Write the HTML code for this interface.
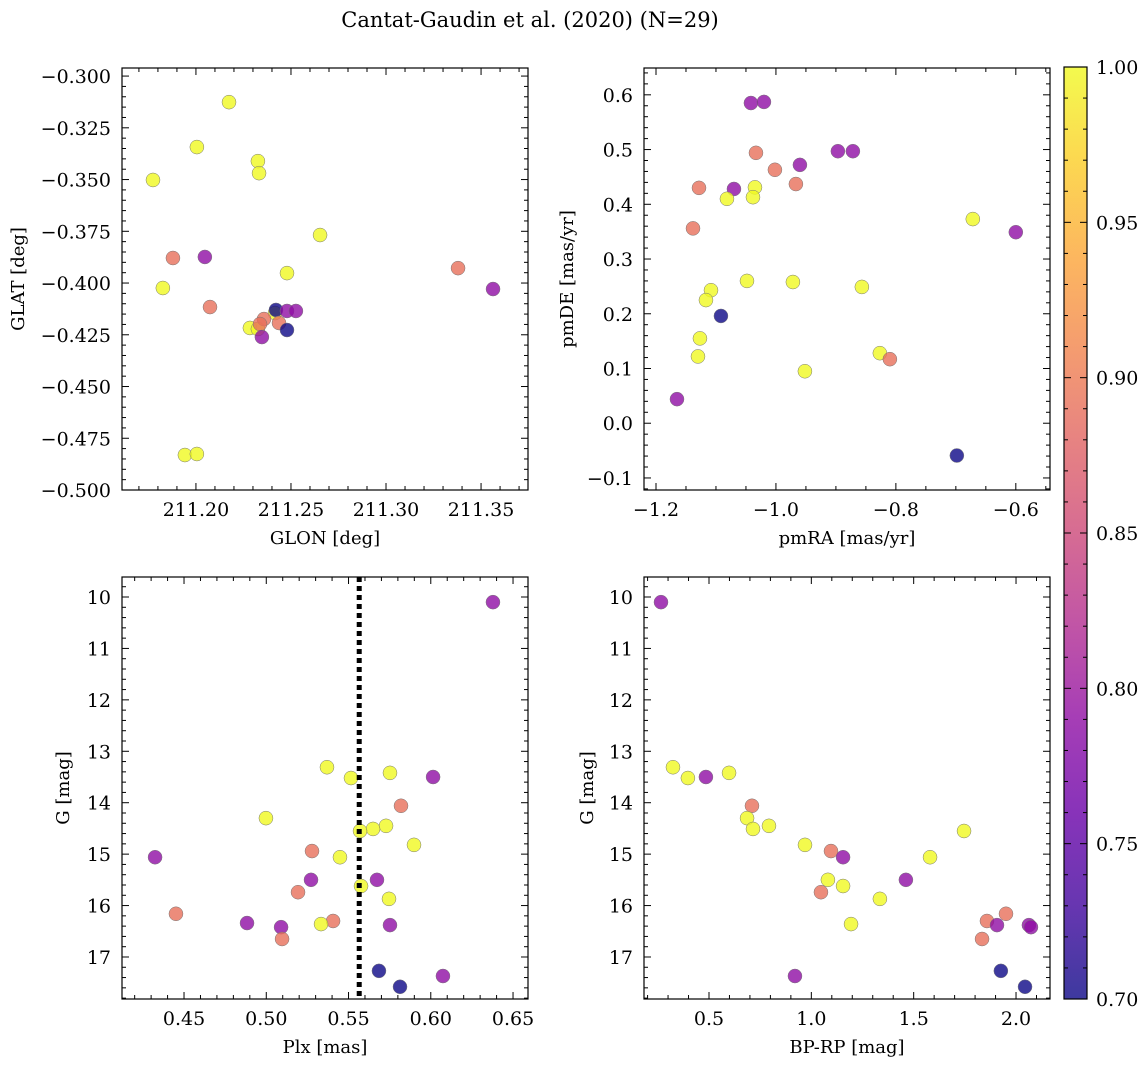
<!DOCTYPE html>
<html><head><meta charset="utf-8">
<style>
html,body{margin:0;padding:0;background:#fff;}
svg{display:block;font-family:"DejaVu Serif","Liberation Serif",serif;}
</style></head>
<body>
<svg id="fig" width="1148" height="1067" viewBox="0 0 1148 1067">
<defs>
<linearGradient id="plasma" x1="0" y1="1" x2="0" y2="0">
<stop offset="0" stop-color="#0d0887"/><stop offset="0.1" stop-color="#41049d"/><stop offset="0.2" stop-color="#6a00a8"/><stop offset="0.3" stop-color="#8f0da4"/><stop offset="0.4" stop-color="#b12a90"/><stop offset="0.5" stop-color="#cc4778"/><stop offset="0.6" stop-color="#e16462"/><stop offset="0.7" stop-color="#f2844b"/><stop offset="0.8" stop-color="#fca636"/><stop offset="0.9" stop-color="#fcce25"/><stop offset="1" stop-color="#f0f921"/>
</linearGradient>
</defs>
<text x="530" y="27" font-size="21" text-anchor="middle">Cantat-Gaudin et al. (2020) (N=29)</text>
</svg>
<script>
// Panel 1: GLON vs GLAT
const p1X=[211.1774,211.2005,211.2174,211.2326,211.2332,211.2653,211.1879,211.2047,211.1826,211.2479,211.2074,211.3379,211.3563,211.2284,211.2326,211.2416,211.2421,211.2358,211.2337,211.2437,211.2347,211.2479,211.2526,211.2479,211.1942,211.2005];
const p1Y=[-0.3502,-0.3343,-0.3126,-0.3411,-0.3469,-0.3768,-0.3879,-0.3874,-0.4024,-0.3952,-0.4116,-0.3928,-0.4029,-0.4217,-0.4222,-0.4145,-0.4130,-0.4174,-0.4198,-0.4193,-0.4261,-0.4135,-0.4135,-0.4227,-0.4831,-0.4826];
const p1P=[1,1,1,1,1,1,0.89,0.79,1,1,0.89,0.89,0.79,1,1,1,0.70,0.89,0.89,0.89,0.79,0.79,0.79,0.70,1,1];
// Panel 2: pmRA vs pmDE
const p2X=[-1.0417,-1.02,-1.0333,-0.8967,-0.8717,-0.96,-1.1283,-1.07,-1.035,-1.0383,-1.0817,-0.9667,-1.0017,-1.1383,-0.6717,-0.6,-1.0483,-0.9717,-0.8567,-1.1083,-1.1167,-1.0917,-1.1267,-1.13,-0.8267,-0.81,-0.9517,-1.165,-0.6983];
const p2Y=[0.585,0.587,0.494,0.497,0.497,0.472,0.430,0.428,0.431,0.413,0.410,0.437,0.463,0.356,0.373,0.349,0.260,0.258,0.249,0.243,0.225,0.196,0.155,0.122,0.128,0.117,0.095,0.044,-0.059];
const p2P=[0.79,0.79,0.89,0.79,0.79,0.79,0.89,0.79,1,1,1,0.89,0.89,0.89,1,0.79,1,1,1,1,1,0.70,1,1,1,0.89,1,0.79,0.70];
// Panel 3: Plx vs G
const p3X=[0.6378,0.5369,0.5515,0.5752,0.6014,0.5819,0.4998,0.5728,0.5649,0.557,0.5898,0.5278,0.5448,0.4324,0.5272,0.5673,0.5576,0.5193,0.5746,0.4451,0.4883,0.5406,0.5333,0.509,0.5752,0.5096,0.5685,0.5813,0.6074];
const p3Y=[10.10,13.31,13.52,13.42,13.50,14.06,14.30,14.45,14.51,14.55,14.82,14.94,15.06,15.06,15.50,15.50,15.62,15.74,15.87,16.16,16.34,16.30,16.36,16.42,16.38,16.65,17.27,17.58,17.37];
const p3P=[0.79,1,1,1,0.79,0.89,1,1,1,1,1,0.89,1,0.79,0.79,0.79,1,0.89,1,0.89,0.79,0.89,1,0.79,0.79,0.89,0.70,0.70,0.79];
const plxLine=0.5565;
// Panel 4: BP-RP vs G
const p4X=[0.2655,0.324,0.397,0.485,0.598,0.71,0.686,0.715,0.793,0.969,1.096,1.155,1.081,1.155,1.047,1.462,1.335,1.194,1.746,1.58,1.858,1.834,1.951,1.907,2.063,2.073,1.926,2.044,0.92];
const p4Y=[10.10,13.31,13.52,13.50,13.42,14.06,14.30,14.51,14.45,14.82,14.94,15.06,15.50,15.62,15.74,15.50,15.87,16.36,14.55,15.06,16.30,16.65,16.16,16.38,16.38,16.42,17.27,17.58,17.37];
const p4P=[0.79,1,1,0.79,1,0.89,1,1,1,1,0.89,0.79,1,1,0.89,0.79,1,1,1,1,0.89,0.89,0.89,0.79,0.79,0.79,0.70,0.70,0.79];
const cbTicks=[0.70,0.75,0.80,0.85,0.90,0.95,1.00];

const NS='http://www.w3.org/2000/svg';
const svg=document.getElementById('fig');
function mk(tag,attrs,parent){const e=document.createElementNS(NS,tag);for(const k in attrs)e.setAttribute(k,attrs[k]);(parent||svg).appendChild(e);return e;}
const stops=['#0d0887','#41049d','#6a00a8','#8f0da4','#b12a90','#cc4778','#e16462','#f2844b','#fca636','#fcce25','#f0f921'];
function hex(c){return [parseInt(c.slice(1,3),16),parseInt(c.slice(3,5),16),parseInt(c.slice(5,7),16)];}
function plasma(v){let t=(v-0.7)/0.3;t=Math.max(0,Math.min(1,t));const f=t*10,i=Math.min(9,Math.floor(f)),r=f-i;const a=hex(stops[i]),b=hex(stops[i+1]);return 'rgb('+a.map((x,j)=>Math.round(x+(b[j]-x)*r)).join(',')+')';}
function fmt(v,d){const s=Math.abs(v).toFixed(d);return (v<-1e-9?'\u2212':'')+s;}
const TF=19, LF=18;
function panel(o){
  const {L,T,R,B,xmin,xmax,ymin,ymax,invert}=o;
  const sx=v=>L+(v-xmin)/(xmax-xmin)*(R-L);
  const sy=invert?(v=>T+(v-ymin)/(ymax-ymin)*(B-T)):(v=>B-(v-ymin)/(ymax-ymin)*(B-T));
  const g=mk('g',{});
  
  
  for(let i=0;i<o.xs.length;i++){
    const c=mk('circle',{cx:sx(o.xs[i]),cy:sy(o.ys[i]),r:7,fill:plasma(o.ps[i]),'fill-opacity':0.8,stroke:'#777','stroke-width':0.5},g);
    
    
  }
  if(o.vline!==undefined){
    const l=mk('line',{x1:sx(o.vline),x2:sx(o.vline),y1:T,y2:B,stroke:'#000','stroke-width':5,'stroke-dasharray':'5,4'},g);
    
    
  }
  mk('rect',{x:L,y:T,width:R-L,height:B-T,fill:'none',stroke:'#000','stroke-width':1.2},g);
  const eps=1e-9;
  for(let v=Math.ceil(xmin/o.xmin_step-eps)*o.xmin_step;v<=xmax+eps;v+=o.xmin_step){
    const x=sx(v);const maj=Math.abs(v/o.xstep-Math.round(v/o.xstep))<1e-6;const len=maj?7:4;
    mk('line',{x1:x,x2:x,y1:B,y2:B-len,stroke:'#000','stroke-width':1},g);
    mk('line',{x1:x,x2:x,y1:T,y2:T+len,stroke:'#000','stroke-width':1},g);
    if(maj){const t=mk('text',{x:x,y:B+26,'font-size':TF,'text-anchor':'middle'},g);t.textContent=fmt(v,o.xd);
      }
  }
  const ylo=Math.min(ymin,ymax),yhi=Math.max(ymin,ymax);
  for(let v=Math.ceil(ylo/o.ymin_step-eps)*o.ymin_step;v<=yhi+eps;v+=o.ymin_step){
    const y=sy(v);const maj=Math.abs(v/o.ystep-Math.round(v/o.ystep))<1e-6;const len=maj?7:4;
    mk('line',{x1:L,x2:L+len,y1:y,y2:y,stroke:'#000','stroke-width':1},g);
    mk('line',{x1:R,x2:R-len,y1:y,y2:y,stroke:'#000','stroke-width':1},g);
    if(maj){const t=mk('text',{x:L-11,y:y+7,'font-size':TF,'text-anchor':'end'},g);t.textContent=fmt(v,o.yd);
      }
  }
  const xl=mk('text',{x:(L+R)/2,y:B+54,'font-size':LF,'text-anchor':'middle'},g);xl.textContent=o.xlabel;
  
  const yl=mk('text',{x:0,y:0,'font-size':LF,'text-anchor':'middle',transform:'translate('+o.ylx+','+(T+B)/2+') rotate(-90)'},g);yl.textContent=o.ylabel;
  
}
panel({name:'glon-glat-panel',L:122,T:68,R:528,B:490,xmin:211.1611,xmax:211.3747,ymin:-0.5,ymax:-0.2961,xs:p1X,ys:p1Y,ps:p1P,xstep:0.05,xmin_step:0.01,ystep:0.025,ymin_step:0.005,xd:2,yd:3,xlabel:'GLON [deg]',ylabel:'GLAT [deg]',ylx:24});
panel({name:'pm-panel',L:644,T:68,R:1050,B:490,xmin:-1.22,xmax:-0.543,ymin:-0.122,ymax:0.649,xs:p2X,ys:p2Y,ps:p2P,xstep:0.2,xmin_step:0.05,ystep:0.1,ymin_step:0.02,xd:1,yd:1,xlabel:'pmRA [mas/yr]',ylabel:'pmDE [mas/yr]',ylx:573});
panel({name:'plx-g-panel',L:122,T:577,R:528,B:999,xmin:0.4123,xmax:0.6591,ymin:9.611,ymax:17.817,invert:true,xs:p3X,ys:p3Y,ps:p3P,vline:plxLine,xstep:0.05,xmin_step:0.01,ystep:1,ymin_step:0.2,xd:2,yd:0,xlabel:'Plx [mas]',ylabel:'G [mag]',ylx:69});
panel({name:'cmd-panel',L:644,T:577,R:1050,B:999,xmin:0.1825,xmax:2.166,ymin:9.611,ymax:17.817,invert:true,xs:p4X,ys:p4Y,ps:p4P,xstep:0.5,xmin_step:0.1,ystep:1,ymin_step:0.2,xd:1,yd:0,xlabel:'BP-RP [mag]',ylabel:'G [mag]',ylx:593});
const cb=mk('g',{});


const cT=67,cB=999,cL=1064,cR=1087;
mk('rect',{x:cL,y:cT,width:cR-cL,height:cB-cT,fill:'url(#plasma)','fill-opacity':0.8},cb);
mk('rect',{x:cL,y:cT,width:cR-cL,height:cB-cT,fill:'none',stroke:'#000','stroke-width':1.2},cb);
const cy=v=>cB-(v-0.7)/0.3*(cB-cT);
for(let k=0;k<=30;k++){const v=0.7+k*0.01;const y=cy(v);const maj=k%5===0;
  mk('line',{x1:cR,x2:cR-(maj?7:4),y1:y,y2:y,stroke:'#000','stroke-width':1},cb);
  mk('line',{x1:cL,x2:cL+(maj?7:4),y1:y,y2:y,stroke:'#000','stroke-width':1},cb);}
cbTicks.forEach(v=>{const t=mk('text',{x:1096,y:cy(v)+7,'font-size':TF},cb);t.textContent=v.toFixed(2);
  });
</script>
</body></html>
